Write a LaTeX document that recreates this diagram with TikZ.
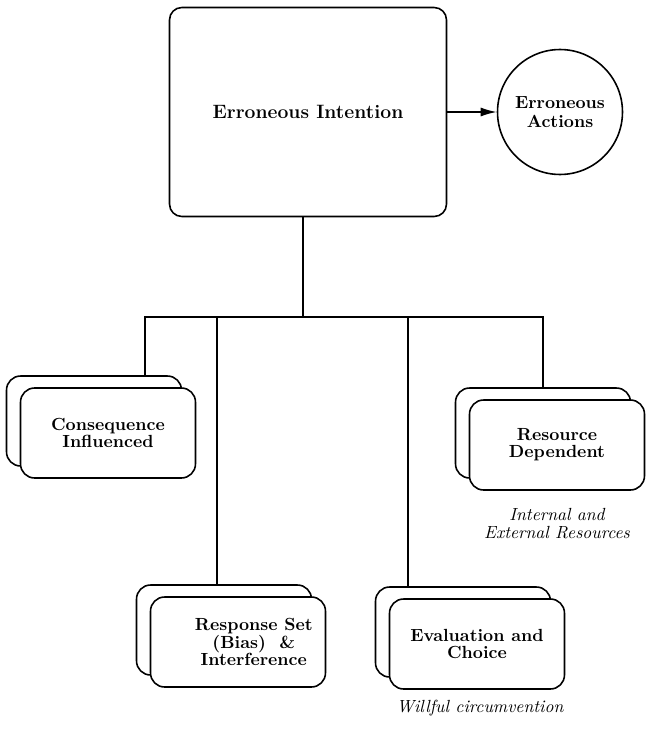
\documentclass[tikz,border=0pt]{standalone}
\usetikzlibrary{arrows.meta}
\begin{document}
\begin{tikzpicture}[x=0.02cm, y=-0.02cm, line width=0.9pt,
    big/.style = {draw, rounded corners=7pt, minimum width=5.54cm, minimum height=4.18cm, font=\bfseries\fontsize{11}{12}\selectfont},
    act/.style = {draw, circle, minimum size=2.5cm, align=center, font=\bfseries\fontsize{10}{10.5}\selectfont},
    card/.style = {draw, fill=white, rounded corners=8pt, minimum width=3.5cm, minimum height=1.8cm, align=center, font=\bfseries\fontsize{10}{9.8}\selectfont},
    front/.style = {card, xshift=0.28cm, yshift=-0.24cm},
    note/.style = {align=center, font=\itshape\fontsize{10}{10.2}\selectfont}]
    \useasboundingbox (0,0) rectangle (647,730);
    \node[big] (main) at (308,112) {Erroneous Intention};
    \node[act] (act) at (560,112) {Erroneous\\Actions};
    \draw[-{Latex[length=0.32cm, width=0.18cm]}] (main) -- (act);
    % stacked cards
    \node[card] (cq0) at (94,421) {};
    \node[front] (cq) at (cq0) {Consequence\\Influenced};
    \node[card] (rd0) at (543,433) {};
    \node[front] (rd) at (rd0) {Resource\\Dependent};
    \node[card] (rs0) at (224,630) {};
    \node[front] (rs) at (rs0) {\hspace*{1.8em}Response Set\\\hspace*{1.8em}(Bias)\ \ \&\\\hspace*{1.8em}Interference};
    \node[card] (ev0) at (463,632) {};
    \node[front] (ev) at (ev0) {Evaluation and\\Choice};
    \node[note] (intres) at (557,524) {Internal and\\External Resources};
    \node[note] (wilful) at (480,708) {Willful circumvention};
    % tree lines
    \coordinate (bus) at (303,317);
    \coordinate (cqtop) at (145,0 |- cq0.north);
    \coordinate (rstop) at (217,0 |- rs0.north);
    \coordinate (evtop) at (408,0 |- ev0.north);
    \draw (main.south -| bus) -- (bus);
    \draw (cqtop) |- (bus) -| (rd0.north);
    \draw (rstop) -- (rstop |- bus);
    \draw (evtop) -- (evtop |- bus);
\end{tikzpicture}
\end{document}
